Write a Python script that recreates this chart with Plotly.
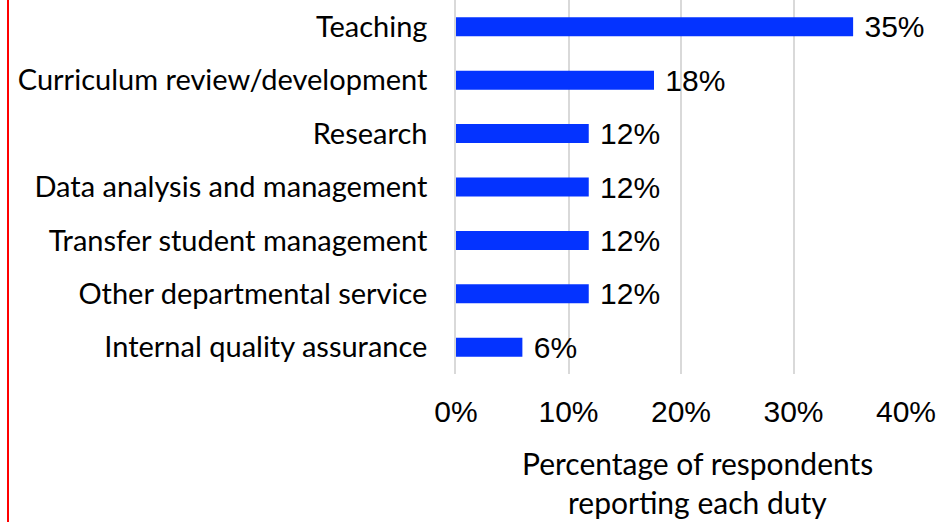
import plotly.graph_objects as go

duties = [
    "Teaching",
    "Curriculum review/development",
    "Research",
    "Data analysis and management",
    "Transfer student management",
    "Other departmental service",
    "Internal quality assurance",
]
percent = [35.3, 17.6, 11.8, 11.8, 11.8, 11.8, 5.9]
x_ticks = [0, 10, 20, 30, 40]
x_tick_labels = ["0%", "10%", "20%", "30%", "40%"]
x_title_lines = ["Percentage of respondents", "reporting each duty"]

W, H = 952, 522
L, R, T, B = 456, 46, 0, 148
plot_w = W - L - R
plot_h = H - T - B


def px_x(px):
    return (px - L) / plot_w


def px_y(py):
    return (plot_h - (py - T)) / plot_h


fig = go.Figure(
    go.Bar(
        x=percent,
        y=duties,
        orientation="h",
        marker=dict(color="#0433FF", line=dict(width=0)),
        texttemplate="\u00a0%{x:.0f}%",
        textposition="outside",
        textfont=dict(family="Liberation Sans, Arial", size=30, color="#000000"),
        constraintext="none",
        cliponaxis=False,
        hoverinfo="skip",
    )
)

title_ann = []
for line, cy in zip(x_title_lines, [463, 502]):
    title_ann.append(
        dict(
            text=line,
            xref="paper",
            yref="paper",
            x=px_x(697),
            y=px_y(cy),
            xanchor="center",
            yanchor="middle",
            showarrow=False,
            font=dict(family="Lato", size=30, color="#000000"),
        )
    )

fig.update_layout(
    width=W,
    height=H,
    margin=dict(l=L, r=R, t=T, b=B),
    paper_bgcolor="white",
    plot_bgcolor="white",
    bargap=0.645,
    showlegend=False,
    hovermode=False,
    xaxis=dict(
        range=[0, 40],
        tickvals=x_ticks,
        ticktext=x_tick_labels,
        showgrid=True,
        gridcolor="#D9D9D9",
        gridwidth=1.5,
        zeroline=False,
        showline=False,
        ticks="",
        ticklabelstandoff=17,
        tickfont=dict(family="Liberation Sans, Arial", size=30, color="#000000"),
        fixedrange=True,
    ),
    yaxis=dict(
        autorange="reversed",
        showgrid=False,
        zeroline=False,
        showline=True,
        linecolor="#D9D9D9",
        linewidth=1.5,
        ticks="",
        ticklabelstandoff=21,
        tickfont=dict(family="Lato", size=29, color="#000000"),
        fixedrange=True,
    ),
    annotations=title_ann,
    shapes=[
        dict(
            type="line",
            xref="paper",
            yref="paper",
            x0=px_x(8),
            x1=px_x(8),
            y0=px_y(H + 10),
            y1=px_y(-10),
            line=dict(color="#FF0000", width=2),
        )
    ],
)

fig.write_html(
    "out.html",
    config={"displayModeBar": False},
    post_script="document.body.style.margin='0';document.body.style.padding='0';",
)
